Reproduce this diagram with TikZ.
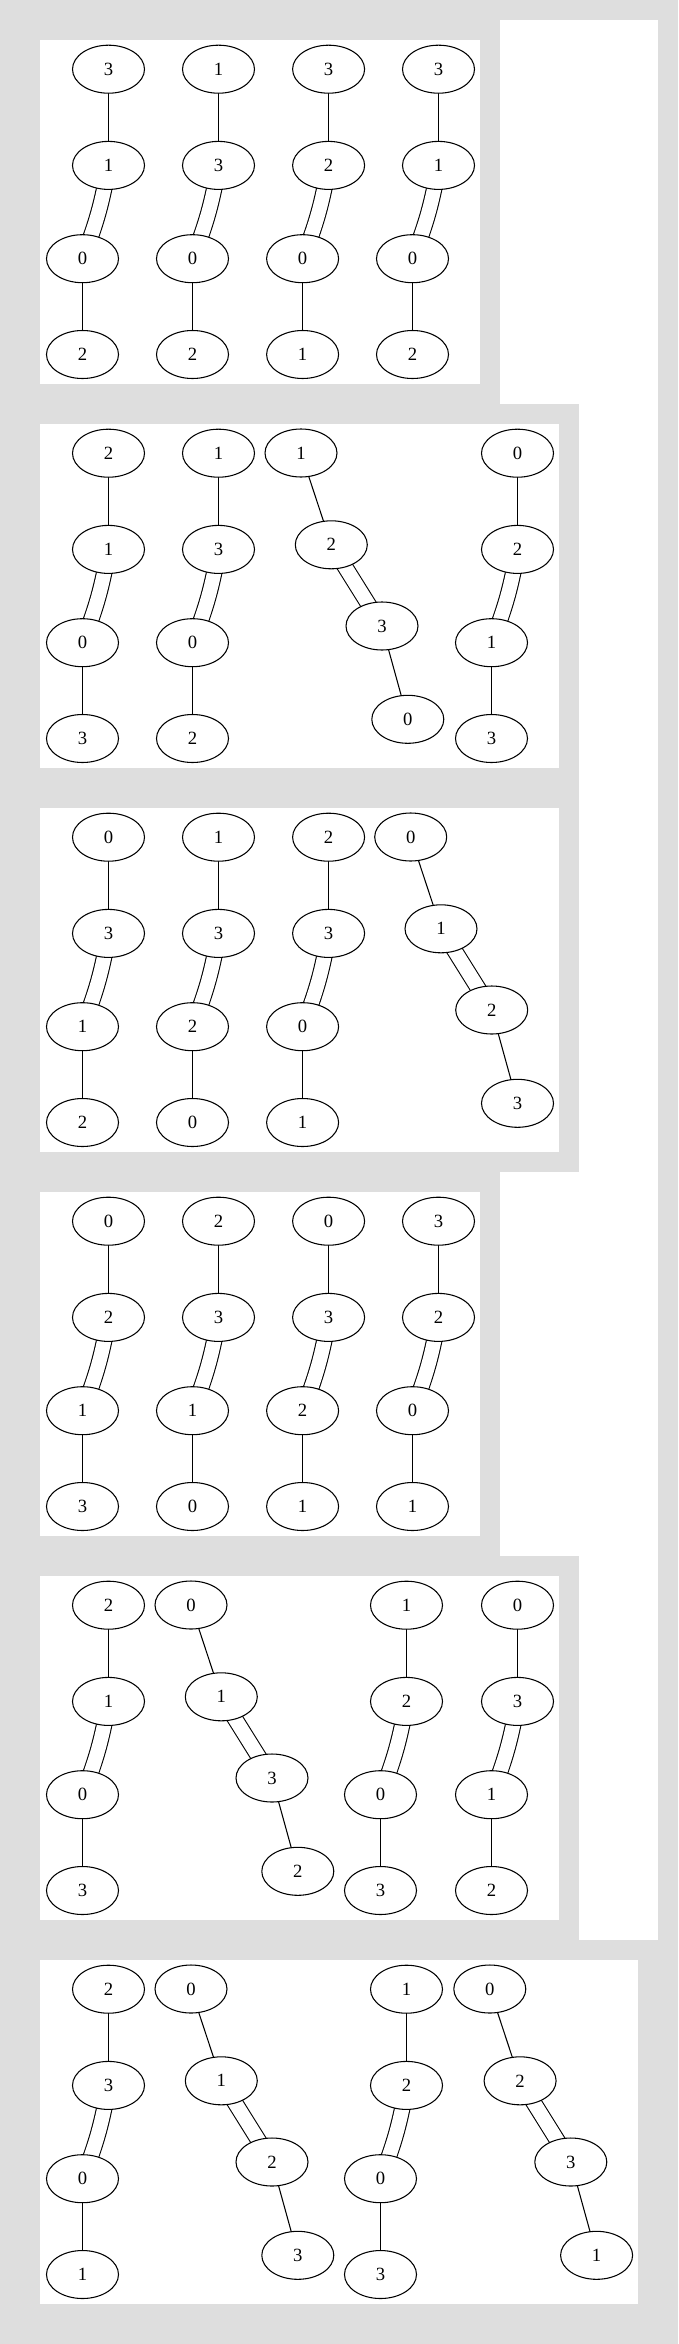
\documentclass[tikz,border=0pt]{standalone}
\usepackage{fontspec}
\setmainfont{Liberation Serif}
\usetikzlibrary{shapes.geometric}
\definecolor{framegray}{RGB}{222,222,222}
\pgfdeclarelayer{back}
\pgfdeclarelayer{edges}
\pgfsetlayers{back,edges,main}
\tikzset{
  nd/.style={ellipse, draw, fill=white, line width=0.8pt, minimum width=54pt, minimum height=36pt, inner sep=0pt, font=\fontsize{14pt}{16pt}\selectfont},
  edgeline/.style={draw, line width=0.8pt},
  dbledge/.style={draw, line width=0.8pt, double=white, double distance=10.7pt},
}
% straight column: name, X, cluster top, four labels
\newcommand{\scolumn}[7]{%
  \node[nd] (#1a) at (#2,#3+29.2) {#4};
  \node[nd] (#1b) at (#2,#3+125.4) {#5};
  \node[nd] (#1c) at (#2-26,#3+218.7) {#6};
  \node[nd] (#1d) at (#2-26,#3+314.5) {#7};
  \begin{pgfonlayer}{edges}
    \path[edgeline] (#1a.center) -- (#1b.center);
    \path[dbledge] (#1b.center) to[bend left=6] (#1c.center);
    \path[edgeline] (#1c.center) -- (#1d.center);
  \end{pgfonlayer}}
% diagonal column: name, X, cluster top, four labels
\newcommand{\dcolumn}[7]{%
  \node[nd] (#1a) at (#2,#3+29) {#4};
  \node[nd] (#1b) at (#2+30.3,#3+120.8) {#5};
  \node[nd] (#1c) at (#2+81,#3+202) {#6};
  \node[nd] (#1d) at (#2+106.8,#3+295.3) {#7};
  \begin{pgfonlayer}{edges}
    \path[edgeline] (#1a.center) -- (#1b.center);
    \path[dbledge] (#1b.center) -- (#1c.center);
    \path[edgeline] (#1c.center) -- (#1d.center);
  \end{pgfonlayer}}
\begin{document}
\begin{tikzpicture}[x=0.75pt,y=-0.75pt]
\useasboundingbox (0,0) rectangle (678,2344);
\begin{pgfonlayer}{back}
  \fill[framegray] (0,0) rectangle (678,2344);
  \fill[white] (500,20) rectangle (658,1940);
  \fill[framegray] (20,404) rectangle (578.5,1172);
  \fill[framegray] (20,1556) rectangle (578.5,1940);
  \fill[white] (40,40) rectangle (480,384);
  \fill[white] (40,424) rectangle (559,768);
  \fill[white] (40,808) rectangle (559,1152);
  \fill[white] (40,1192) rectangle (480,1536);
  \fill[white] (40,1576) rectangle (559,1920);
  \fill[white] (40,1960) rectangle (638,2304);
\end{pgfonlayer}
% cluster 1
\scolumn{p1}{108.5}{40}{3}{1}{0}{2}
\scolumn{q1}{218.5}{40}{1}{3}{0}{2}
\scolumn{r1}{328.6}{40}{3}{2}{0}{1}
\scolumn{s1}{438.5}{40}{3}{1}{0}{2}
% cluster 2
\scolumn{p2}{108.5}{424}{2}{1}{0}{3}
\scolumn{q2}{218.5}{424}{1}{3}{0}{2}
\dcolumn{r2}{301}{424}{1}{2}{3}{0}
\scolumn{s2}{517.5}{424}{0}{2}{1}{3}
% cluster 3
\scolumn{p3}{108.5}{808}{0}{3}{1}{2}
\scolumn{q3}{218.5}{808}{1}{3}{2}{0}
\scolumn{r3}{328.6}{808}{2}{3}{0}{1}
\dcolumn{s3}{410.7}{808}{0}{1}{2}{3}
% cluster 4
\scolumn{p4}{108.5}{1192}{0}{2}{1}{3}
\scolumn{q4}{218.5}{1192}{2}{3}{1}{0}
\scolumn{r4}{328.6}{1192}{0}{3}{2}{1}
\scolumn{s4}{438.5}{1192}{3}{2}{0}{1}
% cluster 5
\scolumn{p5}{108.5}{1576}{2}{1}{0}{3}
\dcolumn{q5}{191}{1576}{0}{1}{3}{2}
\scolumn{r5}{406.5}{1576}{1}{2}{0}{3}
\scolumn{s5}{517.5}{1576}{0}{3}{1}{2}
% cluster 6
\scolumn{p6}{108.5}{1960}{2}{3}{0}{1}
\dcolumn{q6}{191}{1960}{0}{1}{2}{3}
\scolumn{r6}{406.5}{1960}{1}{2}{0}{3}
\dcolumn{s6}{489.8}{1960}{0}{2}{3}{1}
\end{tikzpicture}
\end{document}
